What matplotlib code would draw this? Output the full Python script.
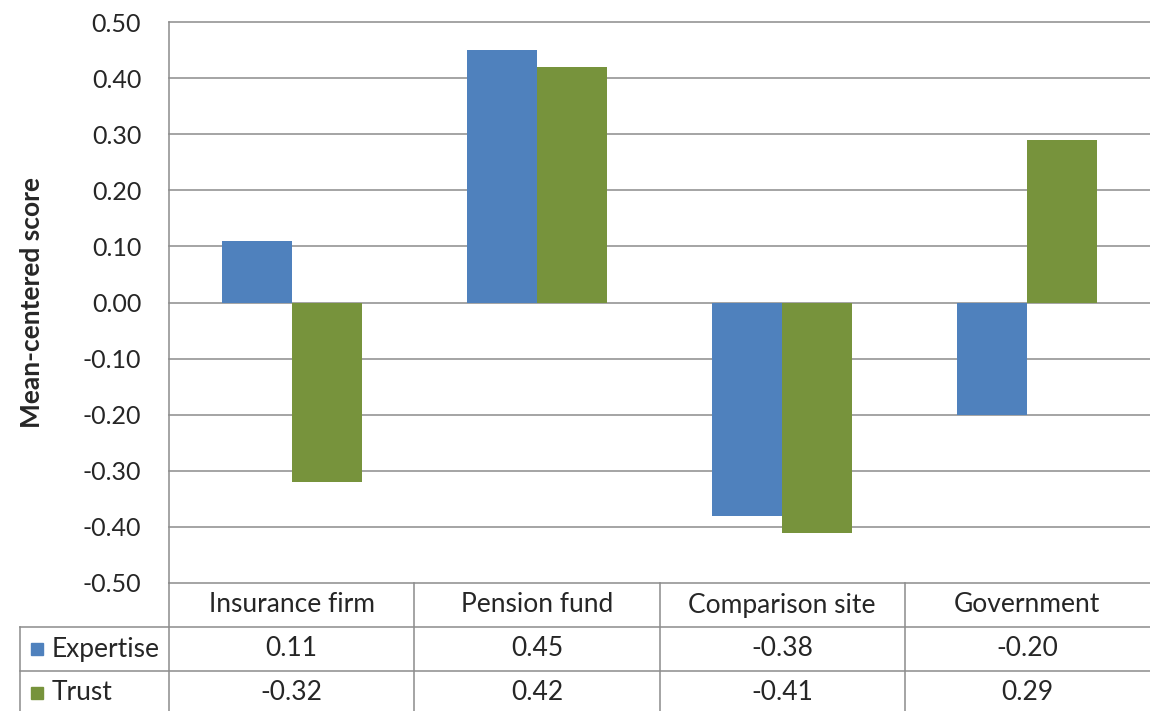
import matplotlib.pyplot as plt
import matplotlib.transforms as mtransforms
import numpy as np

categories = ["Insurance firm", "Pension fund", "Comparison site", "Government"]
series_names = ["Expertise", "Trust"]
expertise = [0.11, 0.45, -0.38, -0.20]
trust = [-0.32, 0.42, -0.41, 0.29]
y_ticks = [-0.5, -0.4, -0.3, -0.2, -0.1, 0.0, 0.1, 0.2, 0.3, 0.4, 0.5]

colors = ["#4F81BD", "#77933C"]
grid_color = "#8C8C8C"
text_color = "#262626"

plt.rcParams["font.family"] = ["Lato", "DejaVu Sans"]

W, H = 1150, 711
fig = plt.figure(figsize=(W / 100, H / 100), dpi=100)

left_px, right_px = 169, 1150
top_px, bottom_px = 22, 583
ax = fig.add_axes([left_px / W, 1 - bottom_px / H,
                   (right_px - left_px) / W, (bottom_px - top_px) / H])

x = np.arange(len(categories))
bar_w = 0.285
ax.bar(x - bar_w, expertise, width=bar_w, align="edge", color=colors[0], zorder=3)
ax.bar(x, trust, width=bar_w, align="edge", color=colors[1], zorder=3)

ax.set_xlim(-0.5, len(categories) - 0.5)
ax.set_ylim(-0.5, 0.5)
ax.set_yticks(y_ticks)
ax.set_yticklabels([f"{v:.2f}" for v in y_ticks], fontsize=18, color=text_color)
ax.set_xticks([])
ax.tick_params(axis="y", length=0, pad=20)
for v in y_ticks:
    ax.axhline(v, color=grid_color, lw=1.1, zorder=1, clip_on=False)
for side in ["top", "right", "bottom"]:
    ax.spines[side].set_visible(False)
ax.spines["left"].set_color(grid_color)
ax.spines["left"].set_linewidth(1.1)
ax.set_ylabel("Mean-centered score", fontsize=19, fontweight="bold",
              color=text_color, labelpad=28)

# data table below the plot
row_px = 44
n_rows = 1 + len(series_names)
tab_h = n_rows * row_px
tax = fig.add_axes([left_px / W, 1 - (bottom_px + tab_h) / H,
                    (right_px - left_px) / W, tab_h / H])
tax.set_xlim(-0.5, len(categories) - 0.5)
tax.set_ylim(n_rows, 0)
tax.axis("off")

box_left = (20 - left_px) / (right_px - left_px)
blend = mtransforms.blended_transform_factory(tax.transAxes, tax.transData)

# vertical lines
tax.plot([-0.5, -0.5], [0, n_rows], color=grid_color, lw=1.1, clip_on=False)
for b in np.arange(0.5, len(categories) - 0.5):
    tax.plot([b, b], [0, n_rows], color=grid_color, lw=1.1, clip_on=False)
tax.plot([box_left, box_left], [1, n_rows], color=grid_color, lw=1.1,
         transform=blend, clip_on=False)
# horizontal lines
for r in range(1, n_rows):
    tax.plot([box_left, 1], [r, r], color=grid_color, lw=1.1,
             transform=blend, clip_on=False)

for i, c in enumerate(categories):
    tax.text(i, 0.5, c, ha="center", va="center", fontsize=19, color=text_color)

for r, (name, vals, col) in enumerate(zip(series_names, [expertise, trust], colors), start=1):
    tax.plot([(37 - left_px) / (right_px - left_px)], [r + 0.5], marker="s",
             markersize=9, color=col, transform=blend, clip_on=False)
    tax.text((52 - left_px) / (right_px - left_px), r + 0.5, name, ha="left",
             va="center", fontsize=19, color=text_color, transform=blend)
    for i, v in enumerate(vals):
        tax.text(i, r + 0.5, f"{v:.2f}", ha="center", va="center",
                 fontsize=19, color=text_color)

fig.savefig("out.png", dpi=100)
